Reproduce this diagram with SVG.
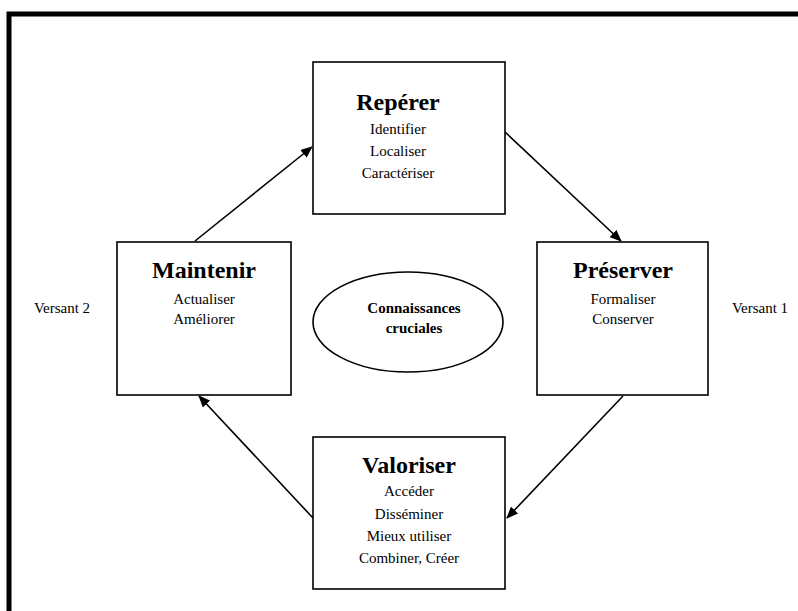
<svg xmlns="http://www.w3.org/2000/svg" width="798" height="611" viewBox="0 0 798 611">
<style>
.box{fill:#fff;stroke:#000;stroke-width:1.6}
.t{font-family:"Liberation Serif","Times New Roman",serif;font-weight:bold;font-size:24px;text-anchor:middle;fill:#000}
.i{font-family:"Liberation Serif","Times New Roman",serif;font-size:15px;text-anchor:middle;fill:#000}
.c{font-family:"Liberation Serif","Times New Roman",serif;font-weight:bold;font-size:15px;text-anchor:middle;fill:#000}
.conn line{stroke:#000;stroke-width:1.6;marker-end:url(#ah)}
</style>
<defs>
<marker id="ah" viewBox="0 0 12 10" refX="11" refY="5" markerWidth="12" markerHeight="10" markerUnits="userSpaceOnUse" orient="auto">
<path d="M0,0 L12,5 L0,10 Z" fill="#000"/>
</marker>
</defs>
<rect width="798" height="611" fill="#fff"/>
<path d="M9,611 V14 H798" fill="none" stroke="#000" stroke-width="5"/>
<g class="conn" id="connectors">
<line x1="195" y1="241" x2="312" y2="147"/>
<line x1="505" y1="132" x2="621" y2="241"/>
<line x1="623" y1="396" x2="507" y2="518"/>
<line x1="313" y1="518" x2="199" y2="396"/>
</g>
<g id="reperer">
<rect class="box" x="313" y="62" width="192" height="152"/>
<text class="t" x="398" y="110">Repérer</text>
<text class="i" x="398" y="134">Identifier</text>
<text class="i" x="398" y="156">Localiser</text>
<text class="i" x="398" y="178">Caractériser</text>
</g>
<g id="maintenir">
<rect class="box" x="117" y="242" width="174" height="153"/>
<text class="t" x="204" y="278">Maintenir</text>
<text class="i" x="204" y="304">Actualiser</text>
<text class="i" x="204" y="324">Améliorer</text>
</g>
<g id="preserver">
<rect class="box" x="537" y="242" width="171" height="153"/>
<text class="t" x="623" y="278">Préserver</text>
<text class="i" x="623" y="304">Formaliser</text>
<text class="i" x="623" y="324">Conserver</text>
</g>
<g id="valoriser">
<rect class="box" x="313" y="437" width="192" height="152"/>
<text class="t" x="409" y="473">Valoriser</text>
<text class="i" x="409" y="496">Accéder</text>
<text class="i" x="409" y="519">Disséminer</text>
<text class="i" x="409" y="541">Mieux utiliser</text>
<text class="i" x="409" y="563">Combiner, Créer</text>
</g>
<g id="connaissances">
<ellipse cx="408" cy="322" rx="95" ry="50" fill="#fff" stroke="#000" stroke-width="1.6"/>
<text class="c" x="414" y="313">Connaissances</text>
<text class="c" x="414" y="333">cruciales</text>
</g>
<g id="versant2"><text class="i" x="62" y="313">Versant 2</text></g>
<g id="versant1"><text class="i" x="760" y="313">Versant 1</text></g>
</svg>
